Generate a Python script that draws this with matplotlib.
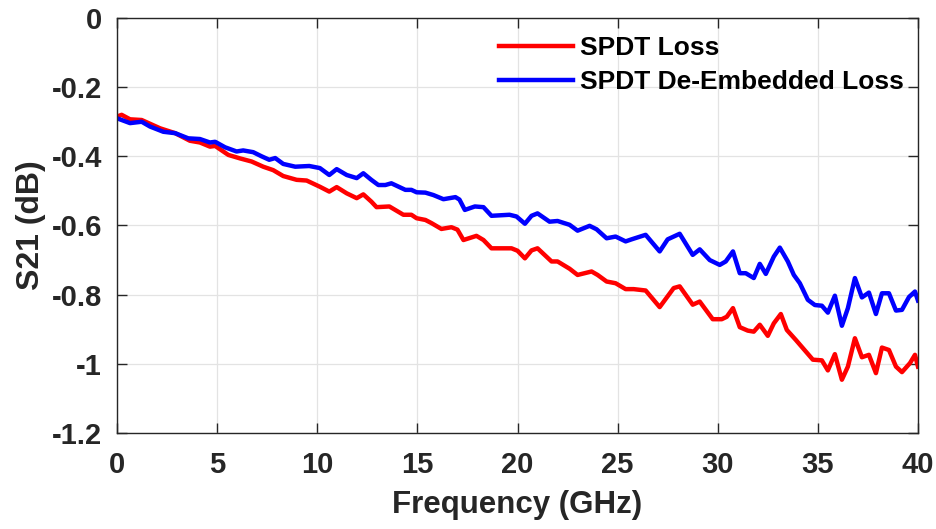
import matplotlib
matplotlib.use('Agg')
import matplotlib.pyplot as plt

# S21, frequency in GHz, loss in dB
freq_loss = [0.0, 0.23, 0.65, 1.23, 2.15, 2.9, 3.64, 4.14, 4.64, 4.9, 5.56, 6.14, 6.72, 7.3, 7.8,
             8.3, 8.97, 9.47, 10.13, 10.6, 10.97, 11.47, 11.97, 12.3, 12.7, 12.96, 13.6, 14.3, 14.7,
             14.96, 15.4, 15.7, 16.2, 16.7, 17.0, 17.3, 17.95, 18.3, 18.7, 19.7, 20.0, 20.37, 20.7,
             21.0, 21.7, 22.0, 22.6, 23.0, 23.7, 24.0, 24.45, 24.9, 25.4, 25.8, 26.4, 27.1, 27.8,
             28.1, 28.75, 29.1, 29.75, 30.2, 30.45, 30.76, 31.1, 31.5, 31.8, 32.1, 32.5, 32.8, 33.15,
             33.45, 33.9, 34.75, 35.2, 35.5, 35.85, 36.2, 36.5, 36.85, 37.2, 37.55, 37.9, 38.2, 38.55,
             38.9, 39.2, 39.6, 39.85, 40.0]
s21_loss = [-0.285, -0.28, -0.293, -0.295, -0.319, -0.333, -0.355, -0.36, -0.372, -0.37, -0.396,
            -0.406, -0.415, -0.43, -0.44, -0.457, -0.468, -0.47, -0.488, -0.502, -0.489, -0.507,
            -0.521, -0.51, -0.531, -0.547, -0.545, -0.569, -0.569, -0.579, -0.584, -0.593, -0.61,
            -0.605, -0.612, -0.642, -0.63, -0.642, -0.666, -0.666, -0.673, -0.695, -0.672, -0.666,
            -0.704, -0.704, -0.725, -0.743, -0.733, -0.743, -0.762, -0.767, -0.784, -0.784, -0.788,
            -0.836, -0.781, -0.776, -0.829, -0.82, -0.871, -0.871, -0.864, -0.839, -0.894, -0.904,
            -0.907, -0.887, -0.919, -0.883, -0.856, -0.902, -0.931, -0.988, -0.99, -1.019, -0.972,
            -1.046, -1.008, -0.926, -0.981, -0.974, -1.027, -0.953, -0.96, -1.008, -1.024, -0.998,
            -0.974, -1.008]

freq_deemb = [0.0, 0.65, 1.23, 1.65, 2.31, 2.9, 3.56, 4.14, 4.64, 4.9, 5.4, 5.97, 6.3, 6.8, 7.22,
              7.6, 7.9, 8.3, 8.9, 9.6, 10.13, 10.6, 10.97, 11.47, 11.97, 12.3, 12.7, 13.05, 13.4,
              13.7, 14.4, 14.7, 14.96, 15.4, 15.8, 16.3, 16.9, 17.1, 17.37, 17.87, 18.3, 18.7, 19.6,
              19.95, 20.37, 20.7, 21.0, 21.6, 22.0, 22.6, 23.0, 23.6, 23.95, 24.45, 24.9, 25.4, 25.7,
              26.4, 27.1, 27.5, 28.1, 28.75, 29.1, 29.6, 30.1, 30.4, 30.76, 31.1, 31.4, 31.8, 32.1,
              32.4, 32.8, 33.1, 33.5, 33.8, 34.1, 34.5, 34.85, 35.2, 35.5, 35.85, 36.2, 36.5, 36.85,
              37.2, 37.55, 37.9, 38.2, 38.55, 38.9, 39.2, 39.55, 39.85, 40.0]
s21_deemb = [-0.29, -0.304, -0.30, -0.314, -0.329, -0.333, -0.348, -0.35, -0.36, -0.358, -0.374,
             -0.386, -0.383, -0.388, -0.40, -0.41, -0.405, -0.422, -0.43, -0.428, -0.434, -0.454,
             -0.437, -0.454, -0.463, -0.449, -0.468, -0.483, -0.483, -0.478, -0.497, -0.497, -0.504,
             -0.505, -0.512, -0.524, -0.518, -0.525, -0.555, -0.545, -0.547, -0.572, -0.569, -0.574,
             -0.595, -0.572, -0.565, -0.589, -0.587, -0.598, -0.615, -0.601, -0.611, -0.637, -0.632,
             -0.646, -0.64, -0.627, -0.675, -0.64, -0.624, -0.685, -0.669, -0.70, -0.714, -0.704,
             -0.675, -0.738, -0.738, -0.752, -0.711, -0.74, -0.69, -0.664, -0.704, -0.743, -0.767,
             -0.815, -0.83, -0.832, -0.852, -0.803, -0.89, -0.839, -0.752, -0.808, -0.794, -0.856,
             -0.796, -0.796, -0.846, -0.844, -0.807, -0.791, -0.817]

x_ticks = [0, 5, 10, 15, 20, 25, 30, 35, 40]
y_ticks = [0, -0.2, -0.4, -0.6, -0.8, -1, -1.2]
y_tick_labels = ['0', '-0.2', '-0.4', '-0.6', '-0.8', '-1', '-1.2']

plt.rcParams['font.family'] = ['Liberation Sans', 'DejaVu Sans']
plt.rcParams['font.weight'] = 'bold'

fig = plt.figure(figsize=(9.37, 5.29), dpi=100)
ax = fig.add_axes([0.1249, 0.1815, 0.8548, 0.7845])

ax.plot(freq_loss, s21_loss, color='#ff0000', linewidth=3.2, label='SPDT Loss')
ax.plot(freq_deemb, s21_deemb, color='#0000ff', linewidth=3.2, label='SPDT De-Embedded Loss')

ax.set_xlim(0, 40)
ax.set_ylim(-1.2, 0)
ax.set_xticks(x_ticks)
ax.set_yticks(y_ticks)
ax.set_yticklabels(y_tick_labels)
ax.grid(True, color='#e3e3e3', linewidth=0.9)
ax.set_axisbelow(True)

for side in ax.spines.values():
    side.set_color('#262626')
    side.set_linewidth(1.0)
ax.tick_params(direction='in', length=7, width=1.0, colors='#262626', labelsize=21,
               top=True, right=True)
ax.tick_params(axis='x', pad=13)
ax.tick_params(axis='y', pad=11)
for lbl in ax.get_xticklabels() + ax.get_yticklabels():
    lbl.set_fontweight('bold')

ax.set_xlabel('Frequency (GHz)', fontsize=22.5, fontweight='bold', color='#262626', labelpad=8)
ax.set_ylabel('S21 (dB)', fontsize=23, fontweight='bold', color='#262626', labelpad=4)

leg = ax.legend(loc='upper right', bbox_to_anchor=(1.006, 1.0), frameon=False,
                prop={'size': 19, 'weight': 'bold'}, handlelength=2.8, handletextpad=0.3,
                labelspacing=0.38, borderaxespad=0.3)

fig.savefig('out.png', dpi=100)
plt.close('all')
